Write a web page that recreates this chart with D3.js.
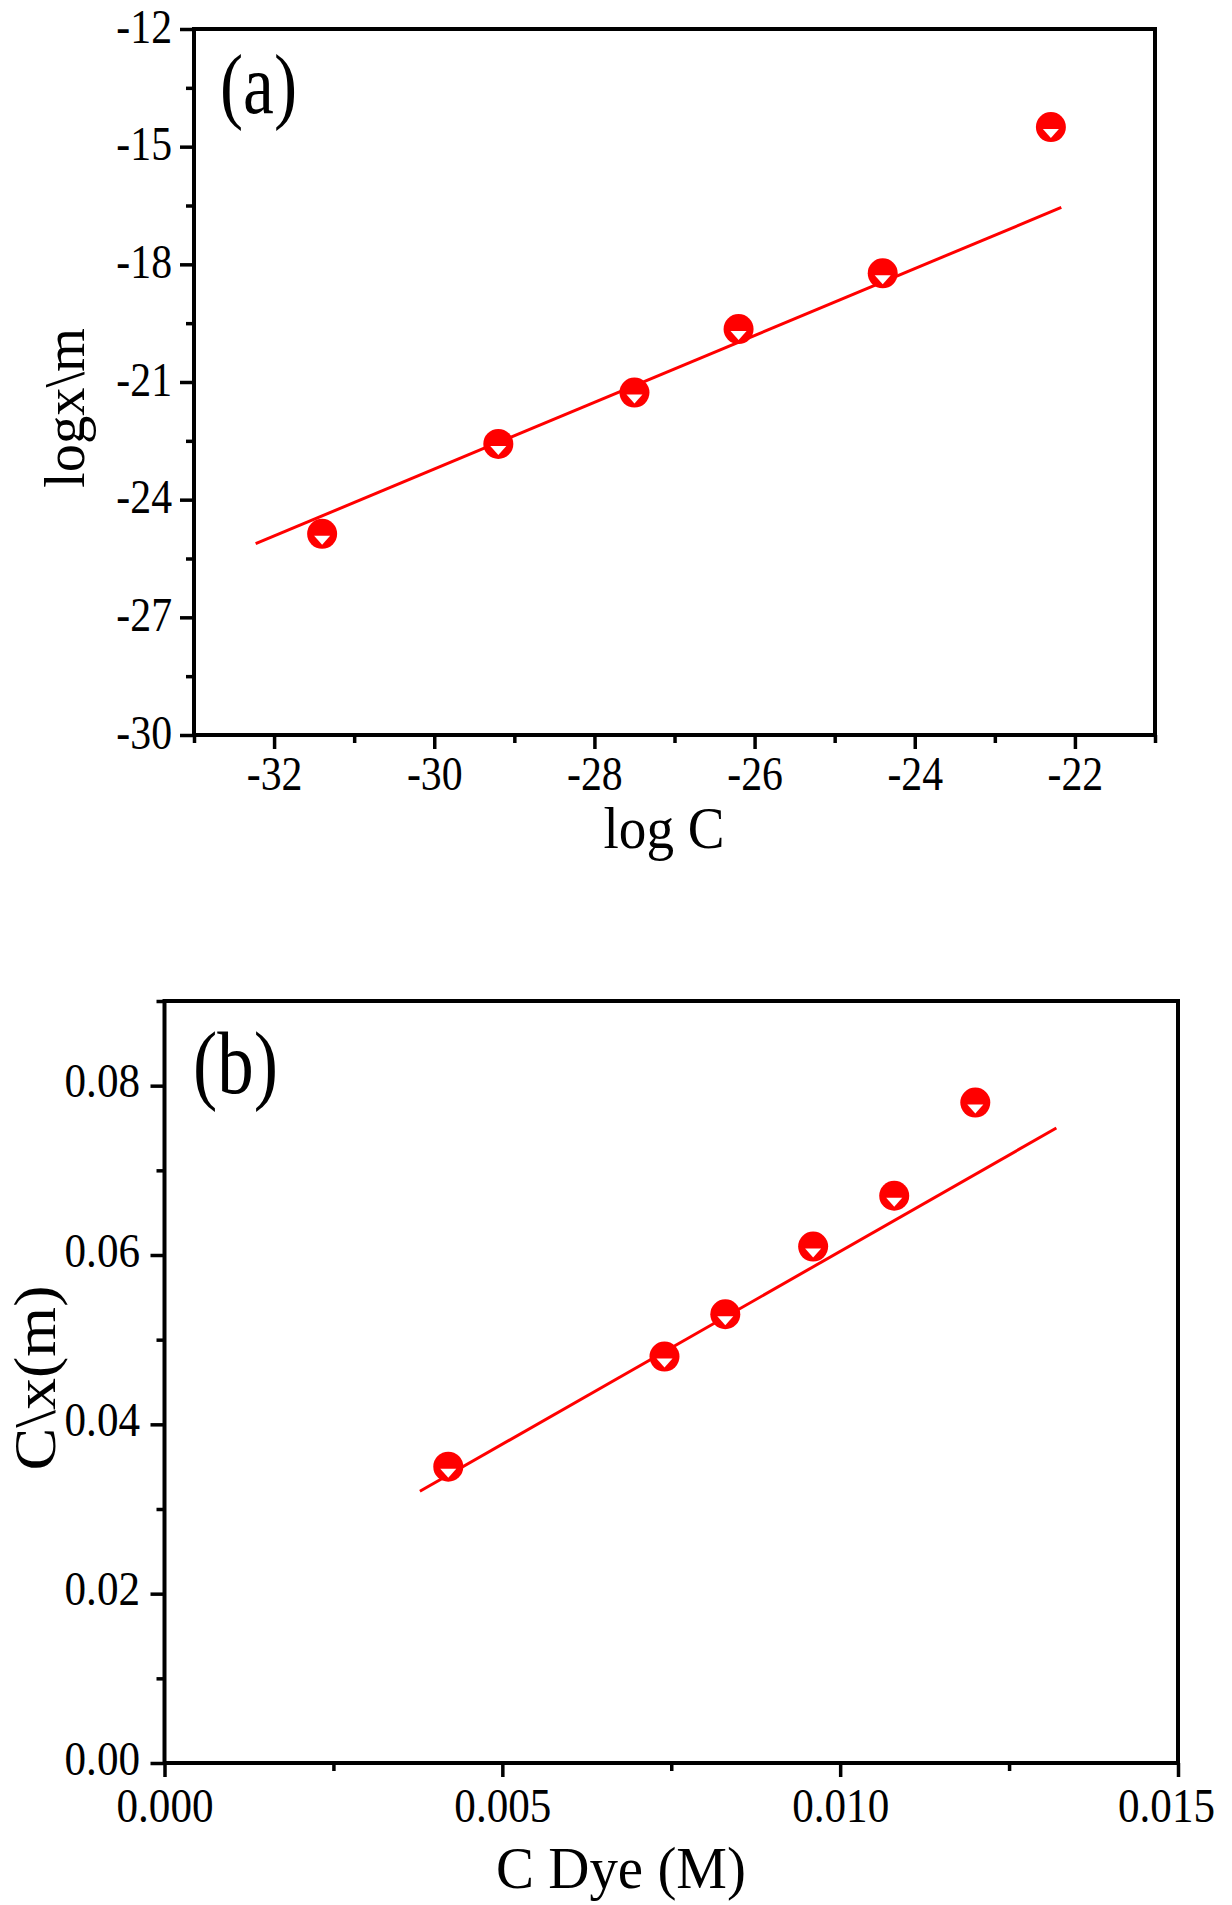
<!DOCTYPE html>
<html><head><meta charset="utf-8">
<script src="https://cdn.jsdelivr.net/npm/d3@7"></script>
<style>
body{margin:0;background:#fff}
svg{display:block}
text{font-family:"Liberation Serif","Times New Roman",serif;fill:#000}
</style>
</head><body>
<svg id="c" width="1232" height="1905"></svg>
<script>
// ---- Panel (a) data ----
const logC   = [-31.4, -29.2, -27.5, -26.2, -24.4, -22.3];
const logXm  = [-24.87, -22.58, -21.27, -19.65, -18.23, -14.5];
const fitA_x = [-32.23, -22.17];
const fitA_y = [-25.12, -16.55];
const aXMajor = [-32, -30, -28, -26, -24, -22];
const aXMinor = [-33, -31, -29, -27, -25, -23, -21];
const aYMajor = [-30, -27, -24, -21, -18, -15, -12];
const aYMinor = [-28.5, -25.5, -22.5, -19.5, -16.5, -13.5];

// ---- Panel (b) data ----
const cDye   = [0.0042, 0.0074, 0.0083, 0.0096, 0.0108, 0.0120];
const cxm    = [0.035, 0.048, 0.053, 0.061, 0.067, 0.078];
const fitB_x = [0.00378, 0.0132];
const fitB_y = [0.0321, 0.0750];
const bXMajor = [0, 0.005, 0.010, 0.015];
const bXMinor = [0.0025, 0.0075, 0.0125];
const bYMajor = [0, 0.02, 0.04, 0.06, 0.08];
const bYMinor = [0.01, 0.03, 0.05, 0.07, 0.09];

const svg = d3.select("#c");
svg.append("rect").attr("width",1232).attr("height",1905).attr("fill","#fff");
const RED = "#ff0000";

function squeeze(sel, k){
  sel.each(function(){
    const w = this.getComputedTextLength();
    d3.select(this).attr("textLength", w*k).attr("lengthAdjust","spacingAndGlyphs");
  });
}

function drawPanel(p){
  const g = svg.append("g");
  const x = d3.scaleLinear().domain(p.xDomain).range([p.box.l, p.box.r]);
  const y = d3.scaleLinear().domain(p.yDomain).range([p.box.b, p.box.t]);

  const styleAxis = sel => {
    sel.attr("font-size", null).attr("font-family", null);
    sel.select(".domain").remove();
    sel.selectAll(".tick line").attr("stroke","#000").attr("stroke-width",3.5);
  };

  // minor ticks
  g.append("g").attr("transform",`translate(0,${p.box.b})`)
    .call(d3.axisBottom(x).tickValues(p.xMinor).tickSize(8).tickFormat(""))
    .call(styleAxis);
  g.append("g").attr("transform",`translate(${p.box.l},0)`)
    .call(d3.axisLeft(y).tickValues(p.yMinor).tickSize(8).tickFormat(""))
    .call(styleAxis);

  // major ticks
  const xa = g.append("g").attr("transform",`translate(0,${p.box.b})`)
    .call(d3.axisBottom(x).tickValues(p.xMajor).tickSize(14).tickFormat(p.xFmt))
    .call(styleAxis);
  xa.selectAll("text").attr("y", p.xLabY).attr("dy", null)
    .style("font-size", p.tickFont+"px").call(squeeze, p.squeeze);
  if (p.lastXShift) {
    xa.selectAll("text").filter((d,i,n)=>i===n.length-1).attr("x", p.lastXShift);
  }

  const ya = g.append("g").attr("transform",`translate(${p.box.l},0)`)
    .call(d3.axisLeft(y).tickValues(p.yMajor).tickSize(14).tickFormat(p.yFmt))
    .call(styleAxis);
  ya.selectAll("text").attr("x", p.yLabX).attr("y", p.yLabDy).attr("dy", null)
    .style("font-size", p.tickFont+"px").call(squeeze, p.squeeze);

  // frame
  g.append("rect").attr("x",p.box.l).attr("y",p.box.t)
    .attr("width",p.box.r-p.box.l).attr("height",p.box.b-p.box.t)
    .attr("fill","none").attr("stroke","#000").attr("stroke-width",4);

  // fit line
  const fitPts = p.fitX.map((v,i)=>[v,p.fitY[i]]);
  g.append("path").datum(fitPts)
    .attr("d", d3.line().x(d=>x(d[0])).y(d=>y(d[1])))
    .attr("fill","none").attr("stroke",RED).attr("stroke-width",3);

  // markers
  const pts = p.xs.map((v,i)=>[v,p.ys[i]]);
  const m = g.selectAll("g.mk").data(pts).join("g").attr("class","mk")
    .attr("transform", d=>`translate(${x(d[0])},${y(d[1])})`);
  m.append("circle").attr("r",15).attr("fill",RED);
  m.append("path").attr("d","M-8,2L8,2L0,11Z").attr("fill","#fff");

  // axis titles
  g.append("text").attr("x",p.xTitle.x).attr("y",p.xTitle.y)
    .attr("text-anchor","middle").style("font-size",p.xTitle.size+"px")
    .attr("textLength",p.xTitle.len).attr("lengthAdjust","spacingAndGlyphs")
    .text(p.xTitle.text);
  g.append("text")
    .attr("transform",`translate(${p.yTitle.x},${p.yTitle.y}) rotate(-90)`)
    .attr("text-anchor","middle").style("font-size",p.yTitle.size+"px")
    .attr("textLength",p.yTitle.len).attr("lengthAdjust","spacingAndGlyphs")
    .text(p.yTitle.text);
  // panel tag
  g.append("text").attr("x",p.tag.x).attr("y",p.tag.y)
    .style("font-size",p.tag.size+"px")
    .attr("textLength",p.tag.len).attr("lengthAdjust","spacingAndGlyphs")
    .text(p.tag.text);
}

drawPanel({
  box:{l:194, t:29, r:1155, b:735},
  xDomain:[-33,-21], yDomain:[-30,-12],
  xMajor:aXMajor, xMinor:aXMinor, yMajor:aYMajor, yMinor:aYMinor,
  xFmt:d=>String(d), yFmt:d=>String(d),
  tickFont:48, squeeze:0.87, xLabY:55, yLabX:-22, yLabDy:13,
  xs:logC, ys:logXm, fitX:fitA_x, fitY:fitA_y,
  xTitle:{text:"log C", x:664, y:848, size:60, len:121},
  yTitle:{text:"logx\\m", x:84, y:408, size:58, len:160},
  tag:{text:"(a)", x:220, y:113, size:84, len:77}
});

drawPanel({
  box:{l:164.5, t:1001, r:1178, b:1763},
  xDomain:[0,0.015], yDomain:[0,0.09],
  xMajor:bXMajor, xMinor:bXMinor, yMajor:bYMajor, yMinor:bYMinor,
  xFmt:d3.format(".3f"), yFmt:d3.format(".2f"),
  tickFont:49, squeeze:0.88, xLabY:59, yLabX:-24.5, yLabDy:11, lastXShift:-12,
  xs:cDye, ys:cxm, fitX:fitB_x, fitY:fitB_y,
  xTitle:{text:"C Dye (M)", x:621, y:1888, size:60, len:250},
  yTitle:{text:"C\\x(m)", x:55, y:1378, size:60, len:185},
  tag:{text:"(b)", x:193, y:1093, size:88, len:85}
});
</script>
</body></html>
